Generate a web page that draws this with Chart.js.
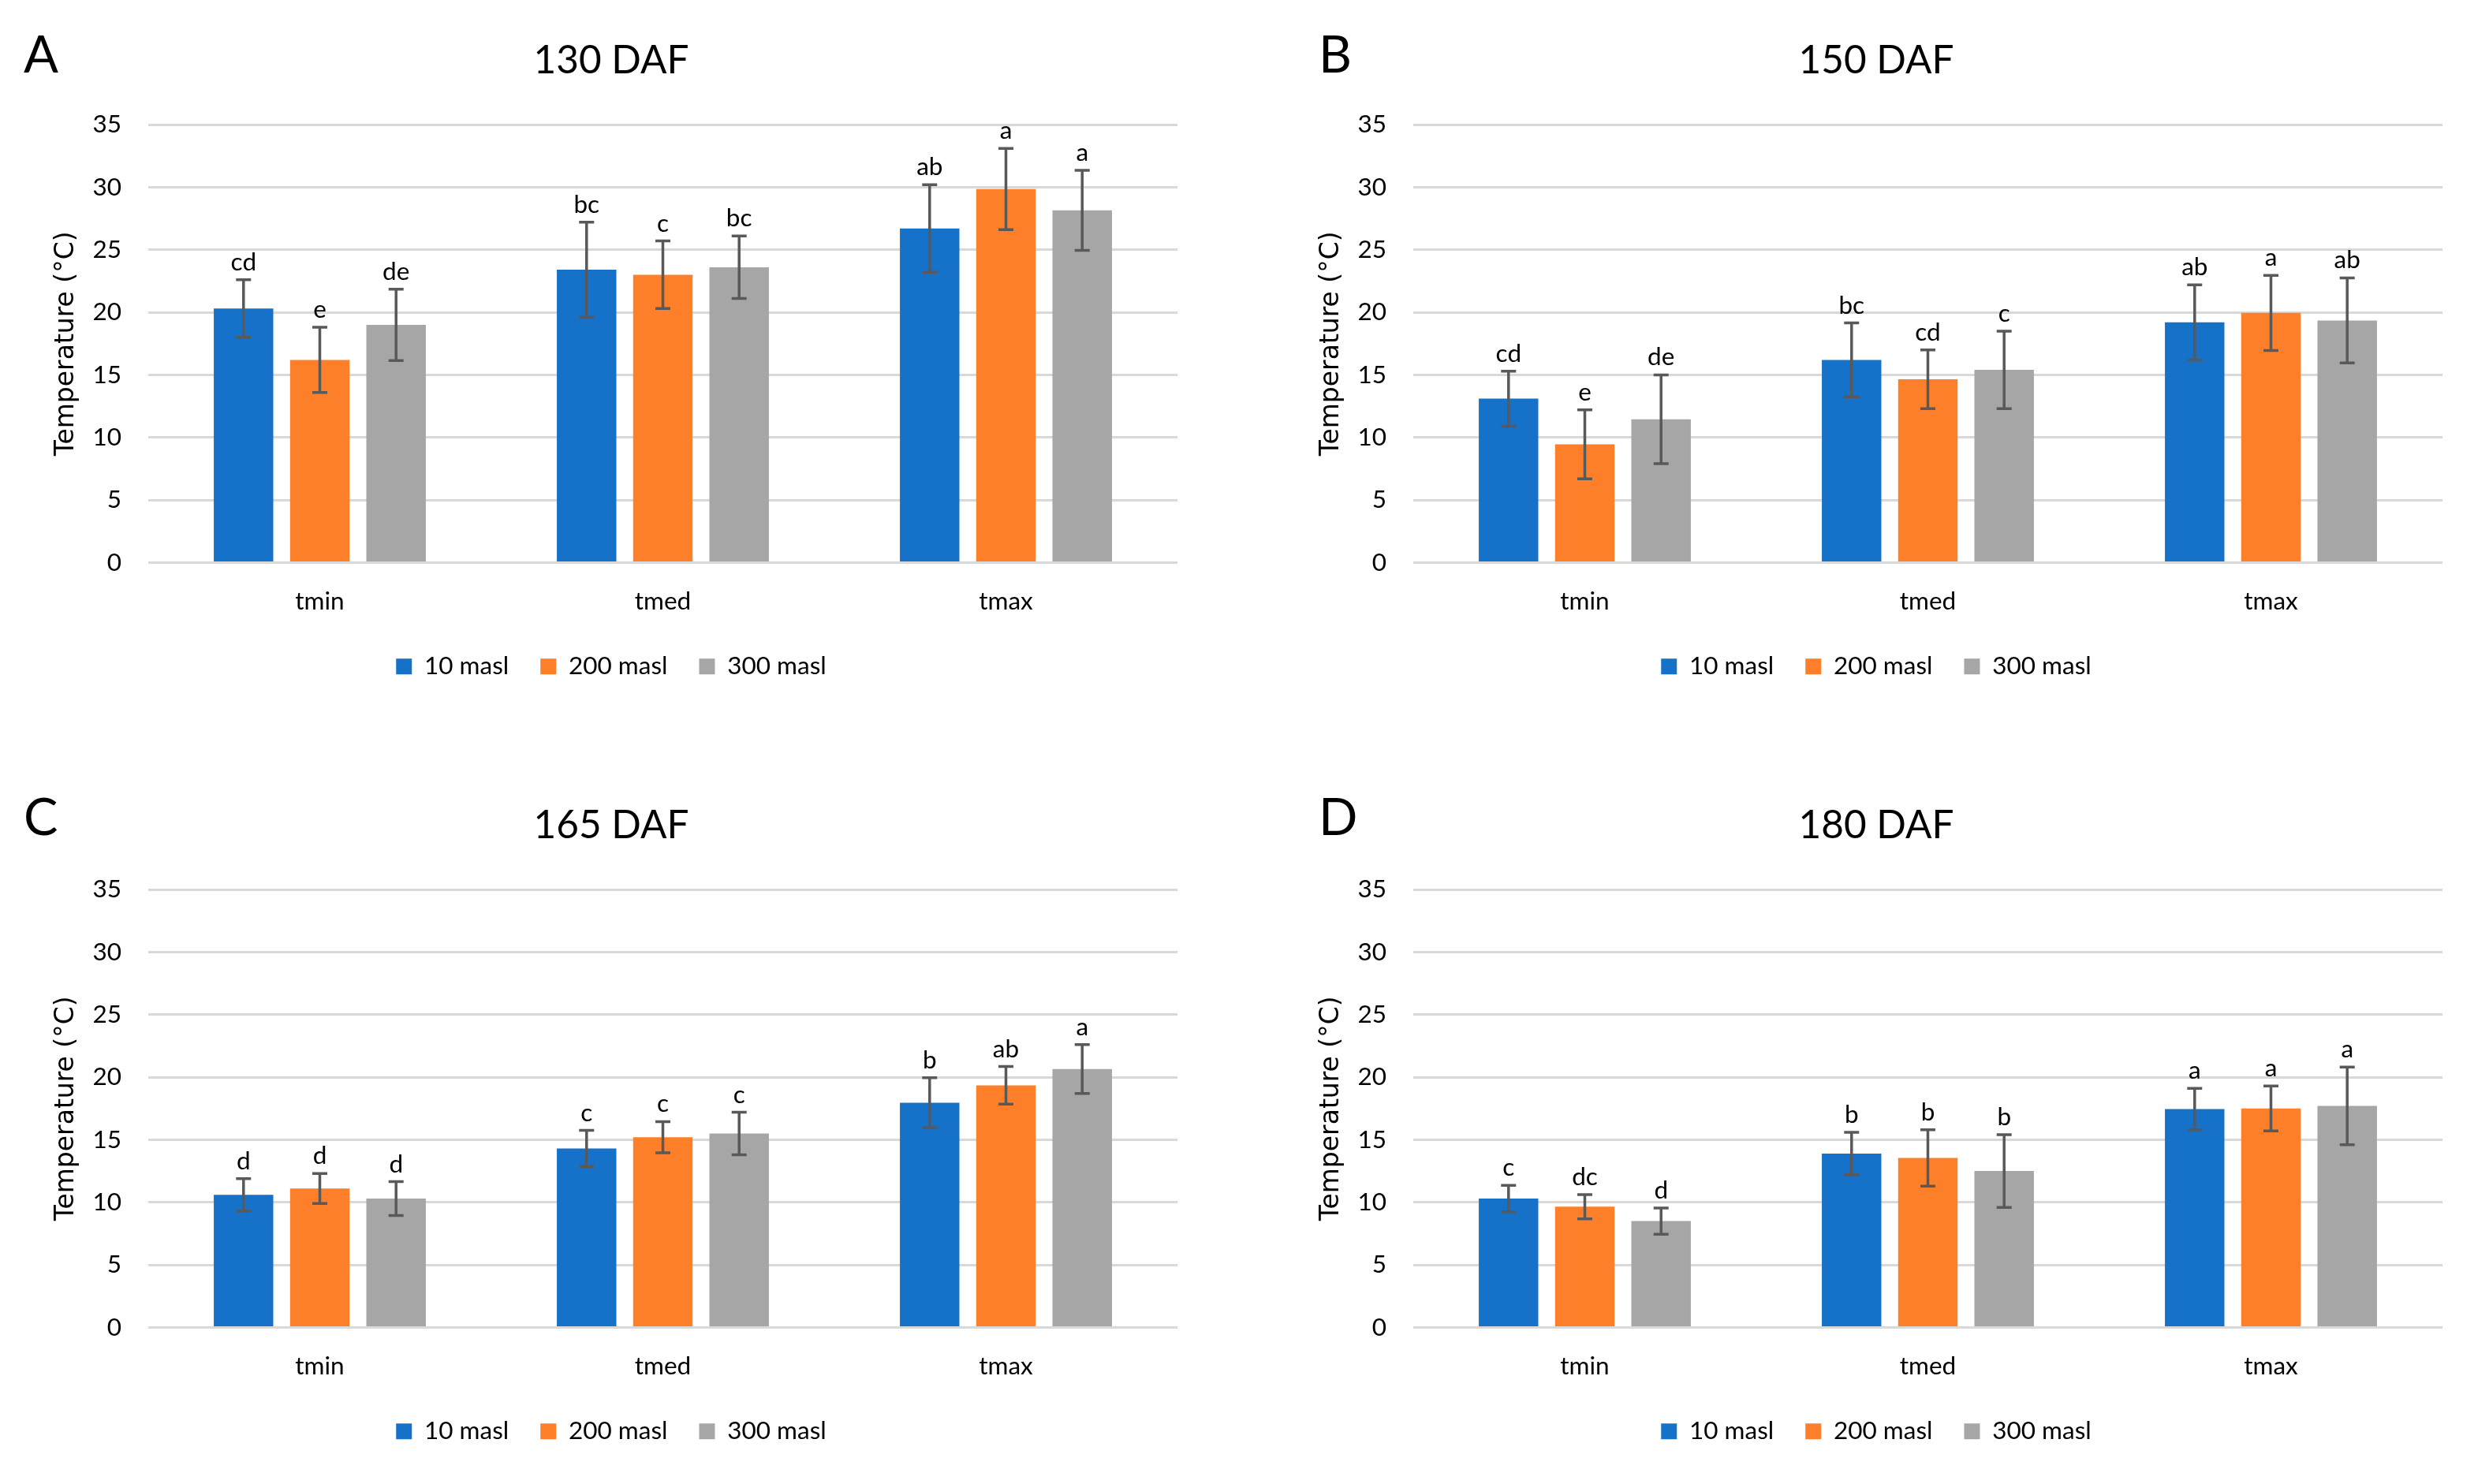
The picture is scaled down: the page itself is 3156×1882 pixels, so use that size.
<!DOCTYPE html>
<html>
<head>
<meta charset="utf-8">
<script src="https://cdn.jsdelivr.net/npm/chart.js@4.4.1/dist/chart.umd.min.js"></script>
<style>
  html, body { margin: 0; padding: 0; background: #fff; }
  #page { position: relative; width: 3156px; height: 1882px; background: #fff; overflow: hidden; }
  canvas { position: absolute; }
  .plabel { position: absolute; font-family: Lato, "Open Sans", sans-serif; font-size: 65px; line-height: 65px; color: #000; }
</style>
</head>
<body>
<div id="page"></div>
<script>
// ---------- data ----------
const categories = ['tmin', 'tmed', 'tmax'];
const seriesNames = ['10 masl', '200 masl', '300 masl'];
const panelLetters = ['A', 'B', 'C', 'D'];
const panelTitles = ['130 DAF', '150 DAF', '165 DAF', '180 DAF'];
const yTicks = [0, 5, 10, 15, 20, 25, 30, 35];

// Panel A (130 DAF)
const meanA_10 = [20.3, 23.4, 26.7];
const meanA_200 = [16.2, 23.0, 29.85];
const meanA_300 = [19.0, 23.6, 28.15];
const errA_10 = [2.3, 3.8, 3.5];
const errA_200 = [2.6, 2.7, 3.25];
const errA_300 = [2.85, 2.5, 3.2];
const letA_10 = ['cd', 'bc', 'ab'];
const letA_200 = ['e', 'c', 'a'];
const letA_300 = ['de', 'bc', 'a'];

// Panel B (150 DAF)
const meanB_10 = [13.1, 16.2, 19.2];
const meanB_200 = [9.45, 14.65, 19.95];
const meanB_300 = [11.45, 15.4, 19.35];
const errB_10 = [2.2, 2.95, 3.0];
const errB_200 = [2.75, 2.35, 3.0];
const errB_300 = [3.55, 3.1, 3.4];
const letB_10 = ['cd', 'bc', 'ab'];
const letB_200 = ['e', 'cd', 'a'];
const letB_300 = ['de', 'c', 'ab'];

// Panel C (165 DAF)
const meanC_10 = [10.6, 14.3, 17.95];
const meanC_200 = [11.1, 15.2, 19.35];
const meanC_300 = [10.3, 15.5, 20.65];
const errC_10 = [1.3, 1.45, 2.0];
const errC_200 = [1.2, 1.25, 1.5];
const errC_300 = [1.35, 1.7, 1.95];
const letC_10 = ['d', 'c', 'b'];
const letC_200 = ['d', 'c', 'ab'];
const letC_300 = ['d', 'c', 'a'];

// Panel D (180 DAF)
const meanD_10 = [10.3, 13.9, 17.45];
const meanD_200 = [9.65, 13.55, 17.5];
const meanD_300 = [8.5, 12.5, 17.7];
const errD_10 = [1.05, 1.7, 1.65];
const errD_200 = [0.97, 2.25, 1.8];
const errD_300 = [1.05, 2.9, 3.1];
const letD_10 = ['c', 'b', 'a'];
const letD_200 = ['dc', 'b', 'a'];
const letD_300 = ['d', 'b', 'a'];

// ---------- styles ----------
const colors = ['#1672C8', '#FE7F2A', '#A6A6A6'];
const mainFont = 'Lato';
const txtColor = '#000000';

const panels = [
  { means: [meanA_10, meanA_200, meanA_300], errs: [errA_10, errA_200, errA_300], lets: [letA_10, letA_200, letA_300], left: 0, top: 0 },
  { means: [meanB_10, meanB_200, meanB_300], errs: [errB_10, errB_200, errB_300], lets: [letB_10, letB_200, letB_300], left: 1604, top: 0 },
  { means: [meanC_10, meanC_200, meanC_300], errs: [errC_10, errC_200, errC_300], lets: [letC_10, letC_200, letC_300], left: 0, top: 970 },
  { means: [meanD_10, meanD_200, meanD_300], errs: [errD_10, errD_200, errD_300], lets: [letD_10, letD_200, letD_300], left: 1604, top: 970 }
];

const errorBarPlugin = {
  id: 'errorBars',
  afterDatasetsDraw(chart) {
    const ctx = chart.ctx;
    const ys = chart.scales.y;
    ctx.save();
    chart.data.datasets.forEach((ds, di) => {
      const meta = chart.getDatasetMeta(di);
      meta.data.forEach((bar, i) => {
        const v = ds.data[i];
        const e = ds.errs[i];
        const x = bar.x;
        const yT = ys.getPixelForValue(v + e);
        const yB = ys.getPixelForValue(v - e);
        ctx.strokeStyle = '#595959';
        ctx.lineWidth = 3.5;
        ctx.beginPath();
        ctx.moveTo(x, yT); ctx.lineTo(x, yB);
        ctx.moveTo(x - 9.5, yT); ctx.lineTo(x + 9.5, yT);
        ctx.moveTo(x - 9.5, yB); ctx.lineTo(x + 9.5, yB);
        ctx.stroke();
        ctx.fillStyle = txtColor;
        ctx.font = '31.5px ' + mainFont;
        ctx.textAlign = 'center';
        ctx.textBaseline = 'alphabetic';
        ctx.fillText(ds.letters[i], x, yT - 12);
      });
    });
    ctx.restore();
  }
};

const page = document.getElementById('page');

panels.forEach((p, pi) => {
  const cv = document.createElement('canvas');
  cv.width = 1550; cv.height = 871;
  cv.style.left = p.left + 'px';
  cv.style.top = p.top + 'px';
  cv.style.width = '1550px'; cv.style.height = '871px';
  page.appendChild(cv);

  const lab = document.createElement('div');
  lab.className = 'plabel';
  lab.textContent = panelLetters[pi];
  lab.style.left = (p.left === 0 ? 30 : 1672) + 'px';
  lab.style.top = (p.top === 0 ? 35 : 35 + 967) + 'px';
  page.appendChild(lab);

  new Chart(cv, {
    type: 'bar',
    data: {
      labels: categories,
      datasets: seriesNames.map((n, i) => ({
        label: n,
        data: p.means[i],
        errs: p.errs[i],
        letters: p.lets[i],
        backgroundColor: colors[i],
        borderWidth: 0,
        barPercentage: 0.78,
        categoryPercentage: 0.667
      }))
    },
    options: {
      responsive: false,
      animation: false,
      devicePixelRatio: 1,
      layout: { padding: 0 },
      plugins: {
        title: {
          display: true, text: panelTitles[pi], color: txtColor,
          font: { family: mainFont, size: 49.5, weight: 'normal' },
          padding: { top: 47, bottom: 51.6 }
        },
        legend: {
          position: 'bottom',
          labels: {
            boxWidth: 20, boxHeight: 20, padding: 40, color: txtColor,
            font: { family: mainFont, size: 31.5 }
          }
        },
        tooltip: { enabled: false }
      },
      scales: {
        x: {
          grid: { display: false },
          border: { display: false },
          ticks: { padding: 22, color: txtColor, font: { family: mainFont, size: 31.5 } },
          afterFit(s) { s.height = 76; }
        },
        y: {
          min: 0, max: 35,
          afterBuildTicks(s) { s.ticks = yTicks.map(v => ({ value: v })); },
          ticks: { padding: 34, color: txtColor, font: { family: mainFont, size: 31.5 } },
          grid: { color: '#d9d9d9', lineWidth: 3, drawTicks: false },
          border: { display: false },
          title: {
            display: true, text: 'Temperature (°C)', color: txtColor,
            font: { family: 'DejaVu Sans', size: 33 },
            padding: { top: 65, bottom: 0 }
          },
          afterFit(s) { s.width = 188; }
        },
        yRight: {
          type: 'linear', position: 'right', display: true,
          min: 0, max: 35,
          grid: { display: false, drawTicks: false },
          border: { display: false },
          ticks: { display: false },
          afterFit(s) { s.width = 57; }
        }
      }
    },
    plugins: [errorBarPlugin]
  });
});
</script>
</body>
</html>
